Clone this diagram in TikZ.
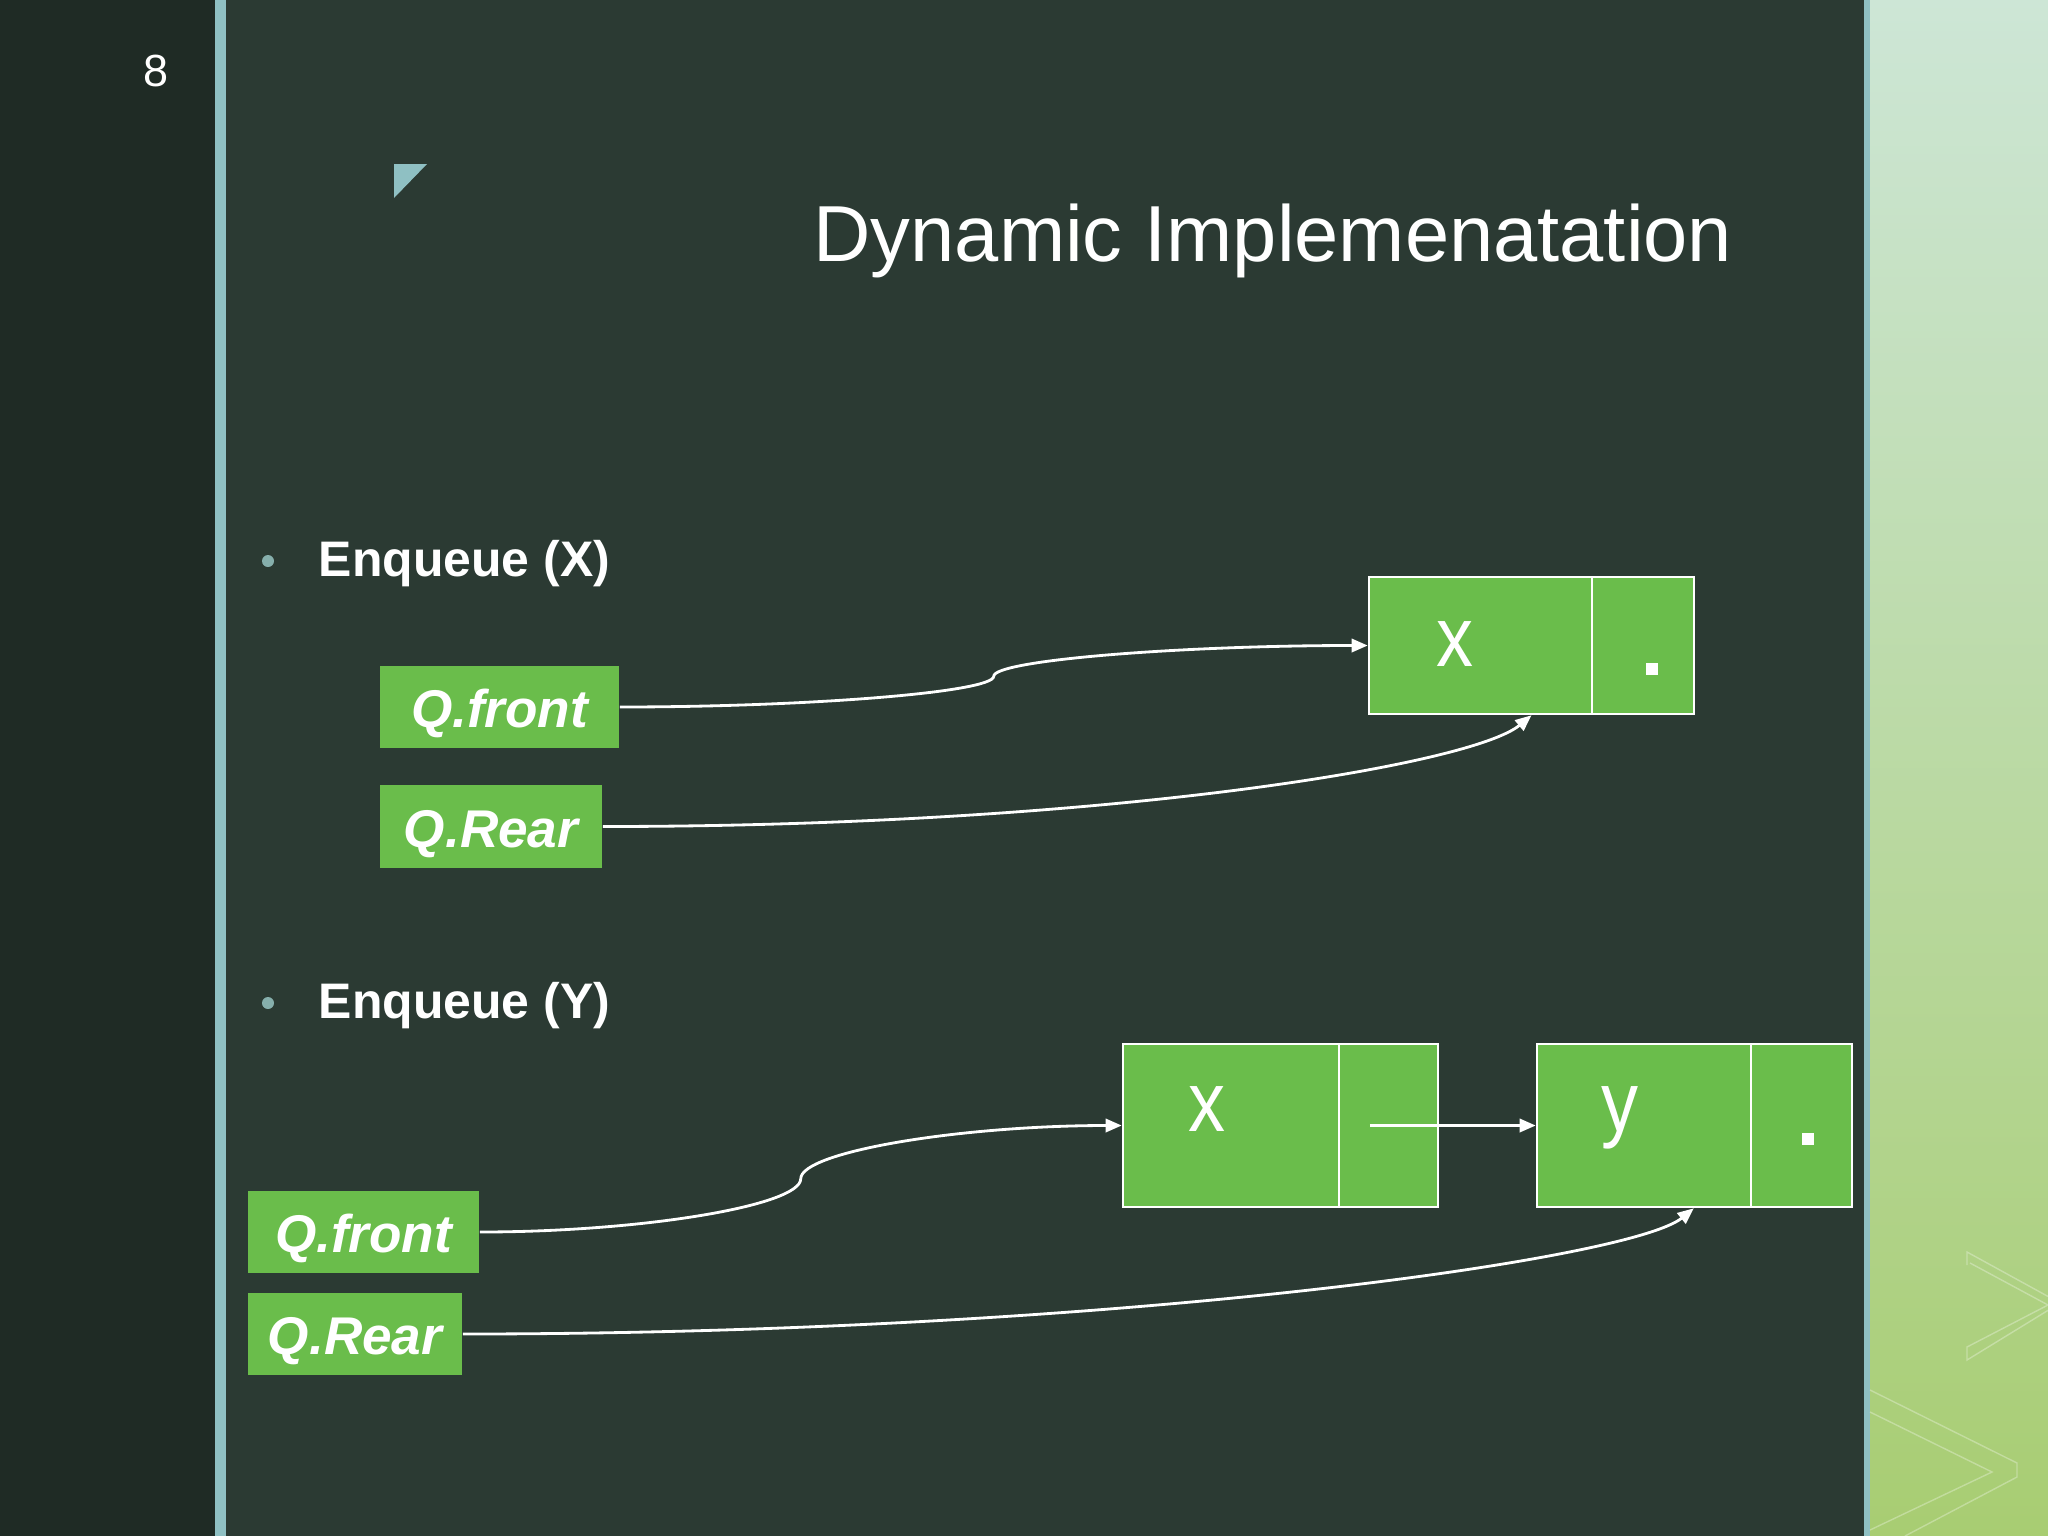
\documentclass[tikz,border=0pt]{standalone}
\usepackage{fontspec}
\setmainfont{Liberation Sans}
\usetikzlibrary{arrows.meta,calc}
\definecolor{bgmain}{HTML}{2B3A33}
\definecolor{bgleft}{HTML}{1F2B25}
\definecolor{accent}{HTML}{8FC0C3}
\definecolor{bulletc}{HTML}{86AFAC}
\definecolor{boxgreen}{HTML}{6ABD4B}
\definecolor{pantop}{HTML}{CDE6D6}
\definecolor{panmid}{HTML}{C2DFB2}
\definecolor{panbot}{HTML}{A8CD72}
\tikzset{
  qlabel/.style={fill=boxgreen, draw=none, text=white, inner sep=0pt,
    font=\bfseries\itshape\fontsize{15.1}{18}\selectfont, minimum height=0.82cm,
    text height=0.41cm, text depth=0cm},
  cell/.style={fill=boxgreen, draw=white, line width=0.7pt, inner sep=0pt},
  celltext/.style={text=white, inner sep=0pt, font=\fontsize{24.2}{28}\selectfont},
  dotsq/.style={fill=white, draw=none, minimum size=0.12cm, inner sep=0pt},
  bulletdot/.style={circle, fill=bulletc, draw=none, minimum size=0.12cm, inner sep=0pt},
  heading/.style={text=white, inner sep=0pt, font=\bfseries\fontsize{14.2}{17}\selectfont},
  conn/.style={draw=white, line width=0.8pt, -{Triangle[length=4.6pt,width=3.8pt]}},
  deco/.style={draw=white, opacity=0.3, line width=0.4pt}
}
\begin{document}
\begin{tikzpicture}[x=0.01cm,y=-0.01cm]
\useasboundingbox (0,0) rectangle (2048,1536);
% backgrounds
\fill[bgmain] (0,0) rectangle (2048,1536);
\fill[bgleft] (0,0) rectangle (215,1536);
\fill[accent] (215,0) rectangle (226,1536);
\fill[top color=pantop, middle color=panmid, bottom color=panbot] (1870,0) rectangle (2048,1536);
\fill[accent] (1864,0) rectangle (1870,1536);
% decorative chevrons on right panel
\draw[deco] (1967,1265) -- (1967,1252) -- (2060,1303) -- (1967,1360) -- (1967,1347) -- (2048,1305) -- (1970,1263);
\draw[deco] (1870,1390) -- (2017,1463) -- (2017,1477) -- (1905,1536);
\draw[deco] (1870,1412) -- (1992,1472) -- (1870,1530);
% page number and corner triangle
\node[text=white, inner sep=0pt, font=\fontsize{12.8}{15}\selectfont] (pagenum) at (156,71) {8};
\fill[accent] (394,164) -- (427,164) -- (394,198) -- cycle;
% title
\node[anchor=base east, text=white, inner sep=0pt, font=\fontsize{22.6}{27}\selectfont] (title) at (1733,261) {Dynamic Implemenatation};
% bullets
\node[bulletdot] (bul1) at (268,561) {};
\node[heading, anchor=base west] (head1) at (318,576) {Enqueue (X)};
\node[bulletdot] (bul2) at (268,1003) {};
\node[heading, anchor=base west] (head2) at (318,1018) {Enqueue (Y)};
% ---------- Enqueue (X) ----------
\node[qlabel, minimum width=2.39cm] (qf1) at (499.5,707) {Q.front};
\node[qlabel, minimum width=2.22cm] (qr1) at (491,826.5) {Q.Rear};
\node[cell, minimum width=2.23cm, minimum height=1.37cm] (xd1) at (1480.5,645.5) {};
\node[cell, minimum width=1.02cm, minimum height=1.37cm] (xp1) at (1643,645.5) {};
\node[celltext, anchor=base] (xt1) at (1455,666) {\scalebox{0.87}[1]{x}};
\node[dotsq] (dot1) at (1652,669) {};
\coordinate (m1) at ($(qf1.east)!0.5!(xd1.west)$);
\draw[conn] (qf1.east) .. controls +(188,0) and +(0,16) .. (m1) .. controls +(0,-16) and +(-188,0) .. (xd1.west);
\coordinate (r1) at ($(xd1.south west)!0.726!(xd1.south east)$);
\draw[conn] (qr1.east) .. controls +(500,0) and +(-60,50) .. (r1);
% ---------- Enqueue (Y) ----------
\node[qlabel, minimum width=2.31cm] (qf2) at (363.5,1232) {Q.front};
\node[qlabel, minimum width=2.14cm] (qr2) at (355,1334) {Q.Rear};
\node[cell, minimum width=2.16cm, minimum height=1.63cm] (xd2) at (1231,1125.5) {};
\node[cell, minimum width=0.99cm, minimum height=1.63cm] (xp2) at (1388.5,1125.5) {};
\node[cell, minimum width=2.14cm, minimum height=1.63cm] (yd2) at (1644,1125.5) {};
\node[cell, minimum width=1.01cm, minimum height=1.63cm] (yp2) at (1801.5,1125.5) {};
\node[celltext, anchor=base] (xt2) at (1207,1131) {\scalebox{0.87}[1]{x}};
\node[celltext, anchor=base] (yt2) at (1620,1131) {\scalebox{0.87}[1]{y}};
\node[dotsq] (dot2) at (1808,1139) {};
\coordinate (xs2) at ($(xp2.west)+(32,0)$);
\draw[conn] (xs2) -- (yd2.west);
\coordinate (m2) at ($(qf2.east)!0.5!(xd2.west)$);
\draw[conn] (qf2.east) .. controls +(161,0) and +(0,27) .. (m2) .. controls +(0,-27) and +(-161,0) .. (xd2.west);
\coordinate (r2) at ($(yd2.south west)!0.73!(yd2.south east)$);
\draw[conn] (qr2.east) .. controls +(640,0) and +(-64,52) .. (r2);
\end{tikzpicture}
\end{document}
